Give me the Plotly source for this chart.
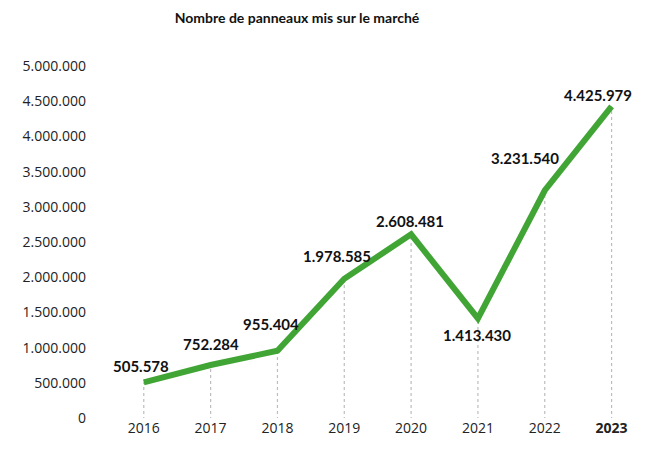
import plotly.graph_objects as go

years = ["2016", "2017", "2018", "2019", "2020", "2021", "2022", "2023"]
values = [505578, 752284, 955404, 1978585, 2608481, 1413430, 3231540, 4425979]
label_dx = [-3, 0, -6, -7, -1, -1, -20, -14]
label_dy = [16, 21, 27, 23, 13, -17, 33, 11]
y_ticks = [0, 500000, 1000000, 1500000, 2000000, 2500000, 3000000, 3500000, 4000000, 4500000, 5000000]
y_tick_text = ["0", "500.000", "1.000.000", "1.500.000", "2.000.000", "2.500.000",
               "3.000.000", "3.500.000", "4.000.000", "4.500.000", "5.000.000"]
x_tick_text = ["2016", "2017", "2018", "2019", "2020", "2021", "2022", "<b>2023</b>"]


def fmt(v):
    return f"{v:,}".replace(",", ".")


fig = go.Figure()

# dotted drop lines from each point to the axis
drop_x, drop_y = [], []
for xv, yv in zip(years, values):
    drop_x += [xv, xv, None]
    drop_y += [-30000, yv, None]
fig.add_trace(go.Scatter(
    x=drop_x, y=drop_y, mode="lines",
    line=dict(color="#bdbdbd", width=1.2, dash="dot"),
    hoverinfo="skip", cliponaxis=False,
))

fig.add_trace(go.Scatter(
    x=years, y=values, mode="lines",
    line=dict(color="#41a535", width=6),
    cliponaxis=False, hoverinfo="skip",
))

# category axis: annotations are placed by category index
for i, (yv, dx, dy) in enumerate(zip(values, label_dx, label_dy)):
    fig.add_annotation(
        x=i, y=yv, xref="x", yref="y", text=f"<b>{fmt(yv)}</b>",
        showarrow=False, xanchor="center", yanchor="middle",
        xshift=dx, yshift=dy,
        font=dict(family="Lato", size=15, color="#111"),
    )

fig.update_layout(
    width=663, height=454,
    margin=dict(l=97, r=18, t=66, b=36),
    paper_bgcolor="white", plot_bgcolor="white",
    showlegend=False,
    title=dict(text="<b>Nombre de panneaux mis sur le marché</b>",
               x=297 / 663, xref="container", xanchor="center",
               y=1 - 18 / 454, yref="container", yanchor="middle",
               font=dict(family="Lato", size=14, color="#111")),
    xaxis=dict(type="category", range=[-0.7, 7.5], showgrid=False, showline=False,
               zeroline=False, ticks="", tickvals=years, ticktext=x_tick_text,
               tickfont=dict(family="Open Sans", size=14, color="#222")),
    yaxis=dict(range=[0, 5000000], showgrid=False, showline=False, zeroline=False,
               ticks="", tickvals=y_ticks, ticktext=y_tick_text, ticklabelstandoff=10,
               tickfont=dict(family="Open Sans", size=14, color="#222")),
)

fig.write_html("out.html")
